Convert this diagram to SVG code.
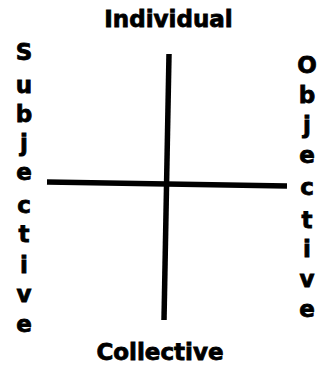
<svg xmlns="http://www.w3.org/2000/svg" width="320" height="368" viewBox="0 0 320 368">
<style>
text{font-family:"DejaVu Sans",Verdana,sans-serif;font-weight:bold;font-size:23px;fill:#000;stroke:#000;stroke-width:0.8;text-anchor:middle}
.ax{stroke:#000;stroke-width:5.5;stroke-linecap:butt;fill:none}
</style>
<rect width="320" height="368" fill="#fff"/>
<g id="connectors">
<line class="ax" x1="169" y1="54" x2="164" y2="320"/>
<line class="ax" x1="47" y1="182" x2="287" y2="186"/>
</g>
<g id="individual"><text x="168.5" y="27">Individual</text></g>
<g id="collective"><text x="160" y="360">Collective</text></g>
<g id="subjective">
<text x="24" y="60">S</text>
<text x="24" y="93">u</text>
<text x="24" y="122">b</text>
<text x="24" y="151">j</text>
<text x="24" y="180">e</text>
<text x="24" y="213">c</text>
<text x="24" y="242">t</text>
<text x="24" y="273">i</text>
<text x="24" y="302">v</text>
<text x="24" y="332">e</text>
</g>
<g id="objective">
<text x="307" y="73">O</text>
<text x="307" y="103">b</text>
<text x="307" y="133">j</text>
<text x="307" y="163">e</text>
<text x="307" y="195">c</text>
<text x="307" y="228">t</text>
<text x="307" y="257">i</text>
<text x="307" y="287">v</text>
<text x="307" y="317">e</text>
</g>
</svg>
